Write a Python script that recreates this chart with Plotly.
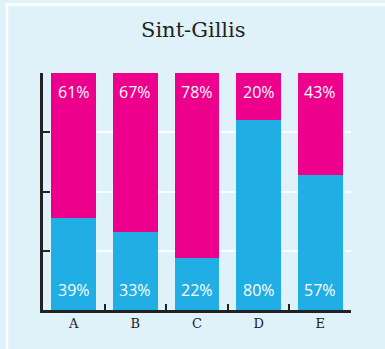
import plotly.graph_objects as go

# Share of each category, split in two parts (per cent)
categories = ["A", "B", "C", "D", "E"]
share_low = [39, 33, 22, 80, 57]   # blue, lower segment
share_high = [61, 67, 78, 20, 43]  # pink, upper segment
title_text = "Sint-Gillis"

BG = "#dff2fa"
BLUE = "#20aee4"
PINK = "#ec008c"
AXIS = "#222222"

fig = go.Figure()
fig.add_trace(go.Bar(x=categories, y=share_low, marker=dict(color=BLUE, line=dict(width=0)),
                     width=0.73, hoverinfo="skip"))
fig.add_trace(go.Bar(x=categories, y=share_high, marker=dict(color=PINK, line=dict(width=0)),
                     width=0.73, hoverinfo="skip"))

annotations = []
label_font = dict(family="Open Sans", size=16, color="white")
for cat, lo, hi in zip(categories, share_low, share_high):
    total = lo + hi
    annotations.append(dict(x=cat, y=total, xref="x", yref="y", text=f"{hi}%",
                            showarrow=False, yanchor="top", yshift=-6, font=label_font))
    annotations.append(dict(x=cat, y=0, xref="x", yref="y", text=f"{lo}%",
                            showarrow=False, yanchor="bottom", yshift=7, font=label_font))

annotations.append(dict(x=0.49, y=1.18, xref="paper", yref="paper", text=title_text,
                        showarrow=False, xanchor="center", yanchor="middle",
                        font=dict(family="DejaVu Serif", size=21, color="#222222")))

fig.update_layout(
    barmode="stack",
    width=385, height=349,
    margin=dict(l=43, r=34, t=73, b=39),
    paper_bgcolor=BG,
    plot_bgcolor="rgba(0,0,0,0)",
    showlegend=False,
    bargap=0.27,
    annotations=annotations,
    shapes=[dict(type="rect", xref="paper", yref="paper",
                 x0=-0.1169, x1=1.5, y0=-0.5, y1=1.289,
                 line=dict(color="white", width=2.5), layer="below")],
    xaxis=dict(
        range=[-0.5, 4.5], showgrid=False, zeroline=False,
        showline=True, linecolor=AXIS, linewidth=2.5,
        ticks="inside", tickson="boundaries", ticklen=6, tickwidth=2, tickcolor=AXIS,
        tickfont=dict(family="DejaVu Serif", size=13, color="#222222"),
        fixedrange=True,
    ),
    yaxis=dict(
        range=[0, 100], showgrid=True, gridcolor="white", gridwidth=2,
        zeroline=False, showline=True, linecolor=AXIS, linewidth=2.5,
        ticks="inside", tickvals=[0, 25, 50, 75, 100], ticklen=7, tickwidth=2, tickcolor=AXIS,
        showticklabels=False, fixedrange=True,
    ),
)

fig.write_html("out.html", config={"displayModeBar": False})
